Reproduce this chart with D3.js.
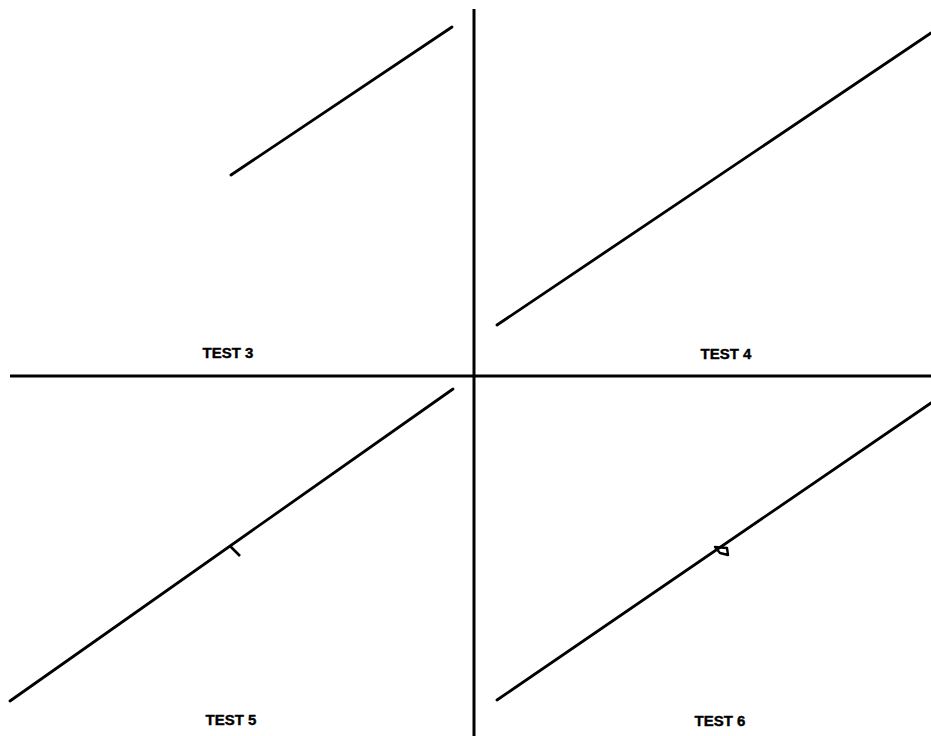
<!DOCTYPE html>
<html>
<head>
<meta charset="utf-8">
<script src="https://cdn.jsdelivr.net/npm/d3@7"></script>
<style>
  body { margin: 0; background: #fff; }
  text { font-family: "Liberation Sans", Arial, sans-serif; font-weight: bold; }
</style>
</head>
<body>
<div id="chart"></div>
<script>
// Window size
const width = 931, height = 736;

// Segments, in units measured from the crossing of the two axes (y up)
const panels = ["TEST 3", "TEST 4", "TEST 5", "TEST 6"];
const segStart = [[-243, 201], [23, 51], [-464, -325], [23, -324]];
const segEnd   = [[-22, 349], [457, 343], [-21, -13], [457, -27]];

// Label anchor points (same units)
const labelPos = [[-246, 18], [252, 17], [-243, -349], [246, -350]];

// Markers on the TEST 5 and TEST 6 lines
const markerPanel = ["TEST 5", "TEST 6"];
const markerType  = ["tick", "flag"];
const markerAt    = [[-244, -170], [243, -173]];

// Axis extents
const xAxisExtent = [-464, 457];
const yAxisExtent = [-360, 367];

const svg = d3.select("#chart")
    .append("svg")
    .attr("width", width)
    .attr("height", height);

svg.append("rect")
    .attr("width", width)
    .attr("height", height)
    .attr("fill", "#fff");

const x = d3.scaleLinear()
    .domain([-464, 457])
    .range([10, 931]);

const y = d3.scaleLinear()
    .domain([-360, 366])
    .range([736, 10]);

// Axes through the origin
svg.append("line")
    .attr("x1", x(xAxisExtent[0]))
    .attr("x2", x(xAxisExtent[1]))
    .attr("y1", y(0))
    .attr("y2", y(0))
    .style("stroke", "#000")
    .style("stroke-width", 3);

svg.append("line")
    .attr("x1", x(0))
    .attr("x2", x(0))
    .attr("y1", y(yAxisExtent[1]))
    .attr("y2", y(yAxisExtent[0]))
    .style("stroke", "#000")
    .style("stroke-width", 3);

// Diagonal lines
const line = d3.line()
    .x(d => x(d[0]))
    .y(d => y(d[1]));

svg.selectAll(".seg")
    .data(panels)
    .enter()
    .append("path")
    .attr("class", "seg")
    .attr("d", (d, i) => line([segStart[i], segEnd[i]]))
    .style("fill", "none")
    .style("stroke", "#000")
    .style("stroke-width", 2.8)
    .style("stroke-linecap", "round");

// Labels
svg.selectAll(".label")
    .data(panels)
    .enter()
    .append("text")
    .attr("class", "label")
    .attr("x", (d, i) => x(labelPos[i][0]))
    .attr("y", (d, i) => y(labelPos[i][1]))
    .attr("text-anchor", "middle")
    .style("font-size", "15px")
    .style("stroke", "#000")
    .style("stroke-width", 0.4)
    .text(d => d);

// Markers
markerType.forEach((t, i) => {
    const px = x(markerAt[i][0]), py = y(markerAt[i][1]);
    const g = svg.append("g").attr("transform", `translate(${px},${py})`);
    if (t === "tick") {
        g.append("path")
            .attr("d", "M0,0 L10,10")
            .style("stroke", "#000")
            .style("stroke-width", 2.6)
            .style("fill", "none");
    } else {
        g.append("path")
            .attr("d", "M-2,-2 L10,-1 L11,6 L3,4 Z")
            .style("stroke", "#000")
            .style("stroke-width", 2.4)
            .style("stroke-linejoin", "round")
            .style("fill", "none");
    }
});
</script>
</body>
</html>
